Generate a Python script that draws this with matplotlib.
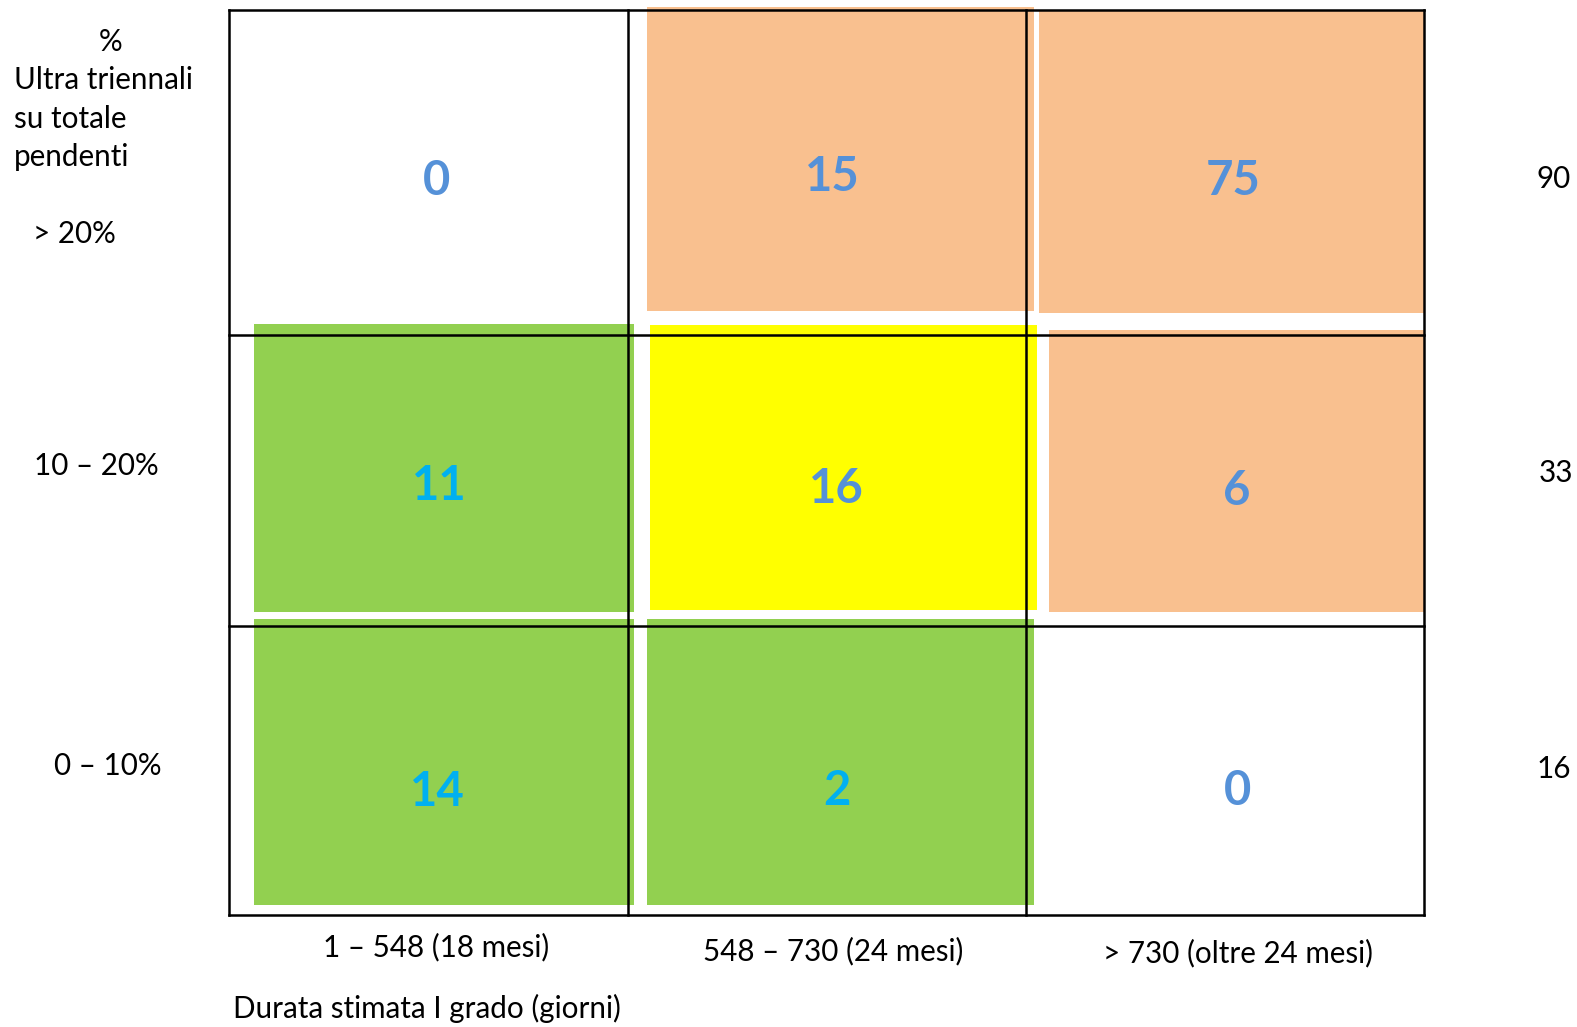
import matplotlib
matplotlib.use("Agg")
import matplotlib.pyplot as plt
from matplotlib.patches import Rectangle

# ---- data ----
col_labels = ["1 – 548 (18 mesi)", "548 – 730 (24 mesi)", "> 730 (oltre 24 mesi)"]
row_labels = ["> 20%", "10 – 20%", "0 – 10%"]
counts = [[0, 15, 75],
          [11, 16, 6],
          [14, 2, 0]]
row_totals = [90, 33, 16]
x_title = "Durata stimata I grado (giorni)"
y_title_lines = ["Ultra triennali", "su totale", "pendenti"]

ORANGE = "#F9C08F"
GREEN = "#92D050"
YELLOW = "#FFFF00"
BLUE = "#5591D8"
CYAN = "#00B0F0"
cell_colors = [[None, ORANGE, ORANGE],
               [GREEN, YELLOW, ORANGE],
               [GREEN, GREEN, None]]

# ---- layout (reference pixel units, 1568x1021 view) ----
W, H = 1568, 1021
col_edges = [228, 624, 1020, 1416]
row_edges = [10, 333, 622, 910]
# fill insets relative to each cell: (left, top, right, bottom) in px
insets = [[None, (19, -3, -8, 24), (13, 0, 0, 22)],
          [(25, -11, -6, 14), (22, -10, -11, 16), (23, -5, 0, 14)],
          [(25, -7, -6, 10), (19, -7, -8, 10), None]]
text_x = [[434, 828, 1226],
          [437, 832, 1230],
          [435, 832, 1230]]
text_y = [[180, 176, 180],
          [483, 486, 488],
          [787, 786, 786]]

plt.rcParams['font.family'] = ['Lato', 'DejaVu Sans']
FS = 21.3
fig = plt.figure(figsize=(15.77, 10.27), dpi=100)

def fx(x):
    return x / W

def fy(y):
    return 1 - y / H

ax = fig.add_axes([fx(col_edges[0]), fy(row_edges[-1]),
                   (col_edges[-1] - col_edges[0]) / W,
                   (row_edges[-1] - row_edges[0]) / H])
ax.set_xlim(col_edges[0], col_edges[-1])
ax.set_ylim(row_edges[-1], row_edges[0])
ax.axis("off")

for r in range(3):
    for c in range(3):
        col = cell_colors[r][c]
        if col is not None:
            l, t, rr, b = insets[r][c]
            x0 = col_edges[c] + l
            x1 = col_edges[c + 1] - rr
            y0 = row_edges[r] + t
            y1 = row_edges[r + 1] - b
            ax.add_patch(Rectangle((x0, y0), x1 - x0, y1 - y0, facecolor=col,
                                   edgecolor="none", clip_on=False, zorder=1))
        tcol = CYAN if col == GREEN else BLUE
        ax.text(text_x[r][c], text_y[r][c], str(counts[r][c]), ha="center", va="center",
                fontsize=34, fontweight="bold", color=tcol, zorder=3)

for x in col_edges:
    ax.plot([x, x], [row_edges[0], row_edges[-1]], color="black", lw=1.8,
            zorder=2, clip_on=False, solid_capstyle="projecting")
for y in row_edges:
    ax.plot([col_edges[0], col_edges[-1]], [y, y], color="black", lw=1.8,
            zorder=2, clip_on=False, solid_capstyle="projecting")

# left title
fig.text(fx(110), fy(42), "%", ha="center", va="center", fontsize=FS)
for i, line in enumerate(y_title_lines):
    fig.text(fx(14), fy(80 + 38 * i), line, ha="left", va="center", fontsize=FS)

row_lab_pos = [(74, 233), (96, 463), (107, 762)]
for (x, y), lab in zip(row_lab_pos, row_labels):
    fig.text(fx(x), fy(y), lab, ha="center", va="center", fontsize=FS)

tot_pos = [(1545, 178), (1547, 470), (1545, 765)]
for (x, y), v in zip(tot_pos, row_totals):
    fig.text(fx(x), fy(y), str(v), ha="center", va="center", fontsize=FS)

col_lab_pos = [(434, 942), (828, 946), (1231, 948)]
for (x, y), lab in zip(col_lab_pos, col_labels):
    fig.text(fx(x), fy(y), lab, ha="center", va="center", fontsize=FS)

fig.text(fx(232), fy(1003), x_title, ha="left", va="center", fontsize=FS)

fig.savefig("out.png", dpi=100, facecolor="white")
